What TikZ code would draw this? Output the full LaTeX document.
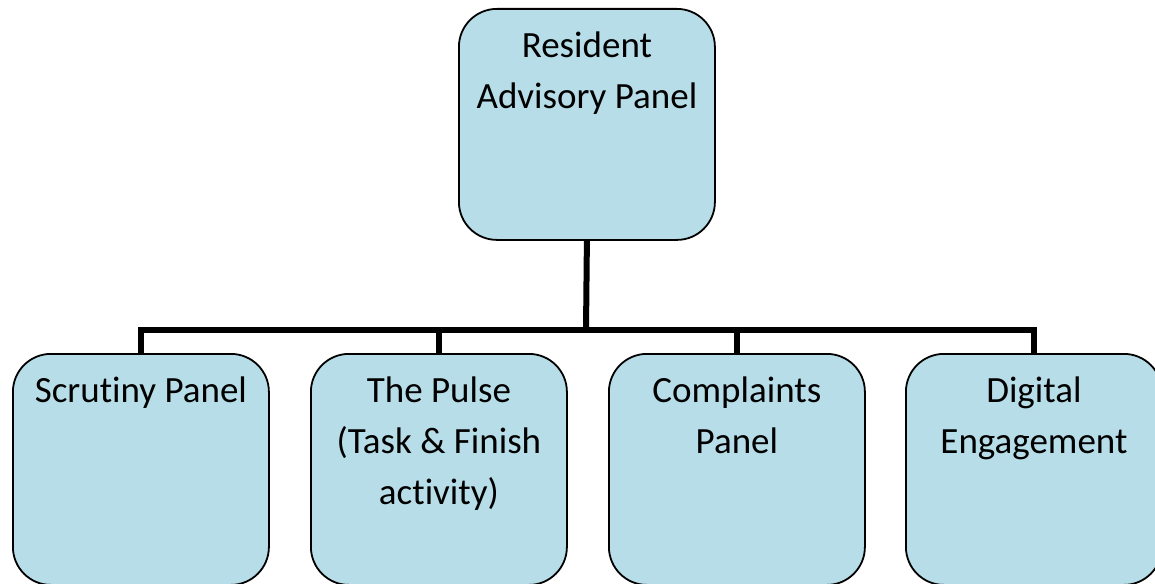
\documentclass[tikz,border=0pt]{standalone}
\usepackage{fontspec}
\setmainfont{Carlito}[Ligatures={NoCommon,NoContextual}, RawFeature={-liga;-calt;-clig}]
\begin{document}
\begin{tikzpicture}[x=1pt,y=-1pt,
  panel/.style={draw=black, line width=1.8pt, fill=panelfill,
    rounded corners=38pt, minimum width=256pt, minimum height=231pt,
    inner sep=0pt, anchor=north west},
  paneltext/.style={anchor=north, inner sep=0pt, align=center,
    font=\fontsize{37}{51}\selectfont},
  link/.style={draw=black, line width=6pt, line join=miter}]
\definecolor{panelfill}{HTML}{B7DEE8}
\useasboundingbox (0,0) rectangle (1155,583);
\clip (0,0) rectangle (1155,583);

% boxes
\node[panel] (rap) at (458,8) {};
\node[panel] (scr) at (12,353) {};
\node[panel] (pul) at (310,353) {};
\node[panel] (cmp) at (608,353) {};
\node[panel] (dig) at (905,353) {};

% labels, first baseline about 50pt below each box top
\newcommand{\firstline}{\rule{0pt}{28pt}}
\node[paneltext] (raptxt) at ([yshift=-21pt]rap.north) {\firstline Resident\\Advisory Panel};
\node[paneltext] (scrtxt) at ([yshift=-21pt]scr.north) {\firstline Scrutiny Panel};
\node[paneltext] (pultxt) at ([yshift=-21pt]pul.north) {\firstline The Pulse\\(Task \& Finish\\activity)};
\node[paneltext] (cmptxt) at ([yshift=-21pt]cmp.north) {\firstline Complaints\\Panel};
\node[paneltext] (digtxt) at ([yshift=-21pt]dig.north) {\firstline Digital\\Engagement};

% connectors
\coordinate (bus) at (586,330);
\draw[link] (rap.south) -- (bus);
\draw[link] (scr.north) |- (bus) -| (dig.north);
\draw[link] (pul.north) -- (pul.north |- bus);
\draw[link] (cmp.north) -- (cmp.north |- bus);
\end{tikzpicture}
\end{document}
